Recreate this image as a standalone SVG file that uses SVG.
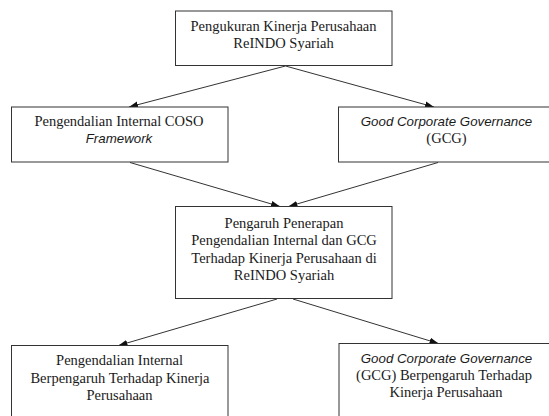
<svg xmlns="http://www.w3.org/2000/svg" width="549" height="416" viewBox="0 0 549 416">
<defs>
<marker id="ah" markerUnits="userSpaceOnUse" markerWidth="10" markerHeight="8" refX="9" refY="4" orient="auto">
<path d="M0,0.8 L9,4 L0,7.2 Z" fill="#111"/>
</marker>
<style>
.box{fill:#fff;stroke:#333;stroke-width:1}
.t{font-family:"Liberation Serif","Times New Roman",serif;font-size:14.5px;fill:#1a1a1a;text-anchor:middle}
.i{font-family:"Liberation Sans",Arial,sans-serif;font-style:italic;font-size:13.3px}
.c{fill:none;stroke:#333;stroke-width:1;marker-end:url(#ah)}
</style>
</defs>
<rect width="549" height="416" fill="#fff"/>
<g id="connectors">
<line class="c" x1="285.5" y1="66" x2="129" y2="107"/>
<line class="c" x1="285.5" y1="66" x2="434" y2="107"/>
<line class="c" x1="130" y1="162.5" x2="280" y2="206.5"/>
<line class="c" x1="438" y1="162.5" x2="288.5" y2="206.5"/>
<line class="c" x1="277" y1="299" x2="118.5" y2="345.5"/>
<line class="c" x1="293" y1="299" x2="438.5" y2="343.5"/>
</g>
<g id="n1">
<rect class="box" x="175.5" y="11" width="216.5" height="54.5"/>
<text class="t" x="283.5" y="30.7">Pengukuran Kinerja Perusahaan</text>
<text class="t" x="283.5" y="47.7">ReINDO Syariah</text>
</g>
<g id="n2">
<rect class="box" x="11.5" y="107" width="216.5" height="55"/>
<text class="t" x="119" y="126">Pengendalian Internal COSO</text>
<text class="t" x="119" y="143.3"><tspan class="i">Framework</tspan></text>
</g>
<g id="n3">
<rect class="box" x="338.5" y="107" width="222" height="55"/>
<text class="t" x="446.5" y="126"><tspan class="i">Good Corporate Governance</tspan></text>
<text class="t" x="446.5" y="143">(GCG)</text>
</g>
<g id="n4">
<rect class="box" x="175.5" y="206.5" width="216.5" height="92"/>
<text class="t" x="284" y="227.5">Pengaruh Penerapan</text>
<text class="t" x="284" y="245">Pengendalian Internal dan GCG</text>
<text class="t" x="284" y="262.5">Terhadap Kinerja Perusahaan di</text>
<text class="t" x="284" y="280">ReINDO Syariah</text>
</g>
<g id="n5">
<rect class="box" x="11.5" y="345.5" width="216.5" height="85"/>
<text class="t" x="119.5" y="365">Pengendalian Internal</text>
<text class="t" x="120" y="382.5">Berpengaruh Terhadap Kinerja</text>
<text class="t" x="119.5" y="400">Perusahaan</text>
</g>
<g id="n6">
<rect class="box" x="339" y="343.5" width="222" height="85"/>
<text class="t" x="446.5" y="362.7"><tspan class="i">Good Corporate Governance</tspan></text>
<text class="t" x="444" y="380">(GCG) Berpengaruh Terhadap</text>
<text class="t" x="446" y="397.3">Kinerja Perusahaan</text>
</g>
</svg>
